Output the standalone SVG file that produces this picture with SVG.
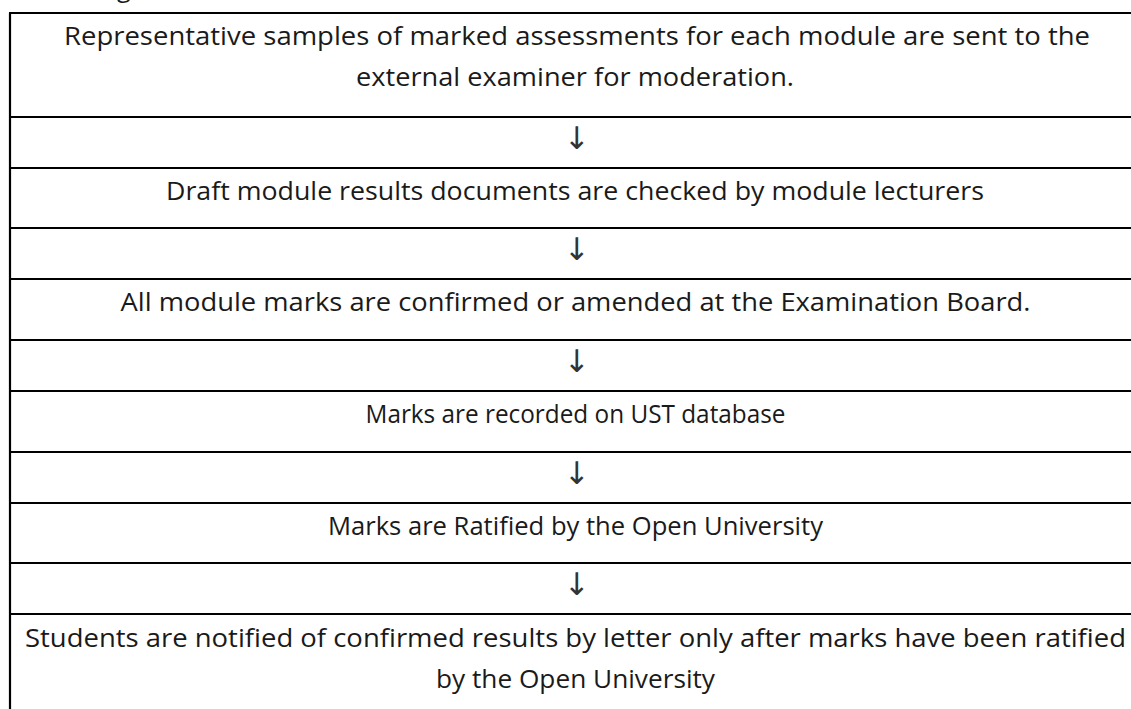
<svg xmlns="http://www.w3.org/2000/svg" width="1131" height="709" viewBox="0 0 1131 709">
<style>
.t{font-family:"Open Sans","Noto Sans",sans-serif;font-size:25px;fill:#1a1a1a;text-anchor:middle}
.a{font-family:"DejaVu Sans",sans-serif;font-size:31px;fill:#333;text-anchor:middle}
.ln{stroke:#000;stroke-width:2.2;fill:none}
</style>
<rect width="1131" height="709" fill="#fff"/>
<text class="t" x="117" y="-3" style="text-anchor:start">g</text>
<g id="frame">
<line class="ln" x1="10" y1="13" x2="10" y2="709"/>
<line class="ln" x1="9" y1="13" x2="1131" y2="13"/>
<line class="ln" x1="9" y1="117" x2="1131" y2="117"/>
<line class="ln" x1="9" y1="168" x2="1131" y2="168"/>
<line class="ln" x1="9" y1="228" x2="1131" y2="228"/>
<line class="ln" x1="9" y1="279" x2="1131" y2="279"/>
<line class="ln" x1="9" y1="340" x2="1131" y2="340"/>
<line class="ln" x1="9" y1="391" x2="1131" y2="391"/>
<line class="ln" x1="9" y1="452" x2="1131" y2="452"/>
<line class="ln" x1="9" y1="503" x2="1131" y2="503"/>
<line class="ln" x1="9" y1="563" x2="1131" y2="563"/>
<line class="ln" x1="9" y1="614" x2="1131" y2="614"/>
</g>
<g id="step1">
<text class="t" x="577" y="45" textLength="1026" lengthAdjust="spacingAndGlyphs">Representative samples of marked assessments for each module are sent to the</text>
<text class="t" x="575" y="86" textLength="438" lengthAdjust="spacingAndGlyphs">external examiner for moderation.</text>
</g>
<g id="step2"><text class="t" x="575" y="200" textLength="818" lengthAdjust="spacingAndGlyphs">Draft module results documents are checked by module lecturers</text></g>
<g id="step3"><text class="t" x="575.5" y="311" textLength="910" lengthAdjust="spacingAndGlyphs">All module marks are confirmed or amended at the Examination Board.</text></g>
<g id="step4"><text class="t" x="575.5" y="423" textLength="420" lengthAdjust="spacingAndGlyphs">Marks are recorded on UST database</text></g>
<g id="step5"><text class="t" x="575.5" y="535" textLength="495" lengthAdjust="spacingAndGlyphs">Marks are Ratified by the Open University</text></g>
<g id="step6">
<text class="t" x="575.5" y="647" textLength="1101" lengthAdjust="spacingAndGlyphs">Students are notified of confirmed results by letter only after marks have been ratified</text>
<text class="t" x="575.5" y="688" textLength="279" lengthAdjust="spacingAndGlyphs">by the Open University</text>
</g>
<g id="connectors">
<text class="a" x="577" y="149">↓</text>
<text class="a" x="577" y="260">↓</text>
<text class="a" x="577" y="372">↓</text>
<text class="a" x="577" y="484">↓</text>
<text class="a" x="577" y="595">↓</text>
</g>
</svg>
